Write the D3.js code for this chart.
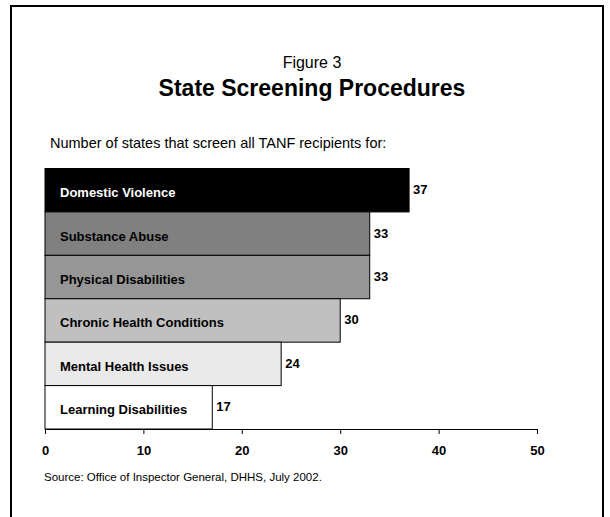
<!DOCTYPE html>
<html>
<head>
<meta charset="utf-8">
<script src="https://cdn.jsdelivr.net/npm/d3@7"></script>
<style>
  body { margin: 0; background: #fff; }
  svg text { font-family: "Liberation Sans", Arial, sans-serif; }
</style>
</head>
<body>
<div id="chart"></div>
<script>
const categories = ["Domestic Violence", "Substance Abuse", "Physical Disabilities",
    "Chronic Health Conditions", "Mental Health Issues", "Learning Disabilities"];
const values = [37, 33, 33, 30, 24, 17];
const barColors = ["#000000", "#808080", "#969696", "#c0c0c0", "#eaeaea", "#ffffff"];
const labelColors = ["#ffffff", "#000000", "#000000", "#000000", "#000000", "#000000"];
const tickValues = [0, 10, 20, 30, 40, 50];

const W = 610, H = 517;
const svg = d3.select("#chart").append("svg")
    .attr("width", W).attr("height", H);

// frame (bottom edge runs off the page)
svg.append("rect")
    .attr("x", 11).attr("y", 6)
    .attr("width", 592).attr("height", 520)
    .attr("fill", "none").attr("stroke", "#000").attr("stroke-width", 2);

// titles
svg.append("text").attr("x", 312).attr("y", 68)
    .attr("text-anchor", "middle").attr("font-size", "16px")
    .text("Figure 3");
svg.append("text").attr("x", 312).attr("y", 96)
    .attr("text-anchor", "middle").attr("font-size", "23px").attr("font-weight", "bold")
    .text("State Screening Procedures");
svg.append("text").attr("x", 50).attr("y", 148)
    .attr("font-size", "14.5px")
    .text("Number of states that screen all TANF recipients for:");

const x = d3.scaleLinear().domain([0, 50]).range([45, 537]);
const y = d3.scaleBand().domain(categories).range([168.5, 429]).padding(0);

// bars
const g = svg.append("g");
g.selectAll("rect.bar")
    .data(categories)
    .join("rect")
    .attr("class", "bar")
    .attr("x", x(0))
    .attr("y", d => y(d))
    .attr("width", (d, i) => x(values[i]) - x(0))
    .attr("height", y.bandwidth())
    .attr("fill", (d, i) => barColors[i])
    .attr("stroke", "#000")
    .attr("stroke-width", 1);

// category labels inside bars
g.selectAll("text.cat")
    .data(categories)
    .join("text")
    .attr("class", "cat")
    .attr("x", x(0) + 15)
    .attr("y", d => y(d) + y.bandwidth() / 2 + 7)
    .attr("font-size", "13px").attr("font-weight", "bold")
    .attr("fill", (d, i) => labelColors[i])
    .text(d => d);

// value labels
g.selectAll("text.val")
    .data(categories)
    .join("text")
    .attr("class", "val")
    .attr("x", (d, i) => x(values[i]) + 4)
    .attr("y", d => y(d) + y.bandwidth() / 2 + 4)
    .attr("font-size", "13px").attr("font-weight", "bold")
    .text((d, i) => values[i]);

// x axis
const axis = svg.append("g")
    .attr("transform", `translate(0, ${y.range()[1]})`)
    .call(d3.axisBottom(x).tickValues(tickValues).tickSize(5).tickSizeOuter(0).tickPadding(12));
axis.select(".domain").attr("stroke", "#000");
axis.selectAll(".tick line").attr("stroke", "#000");
axis.selectAll(".tick text")
    .attr("font-size", "13px").attr("font-weight", "bold")
    .attr("font-family", "Liberation Sans, Arial, sans-serif")
    .attr("fill", "#000");

// source
svg.append("text").attr("x", 44).attr("y", 481)
    .attr("font-size", "11.5px")
    .text("Source:  Office of Inspector General, DHHS, July 2002.");
</script>
</body>
</html>
